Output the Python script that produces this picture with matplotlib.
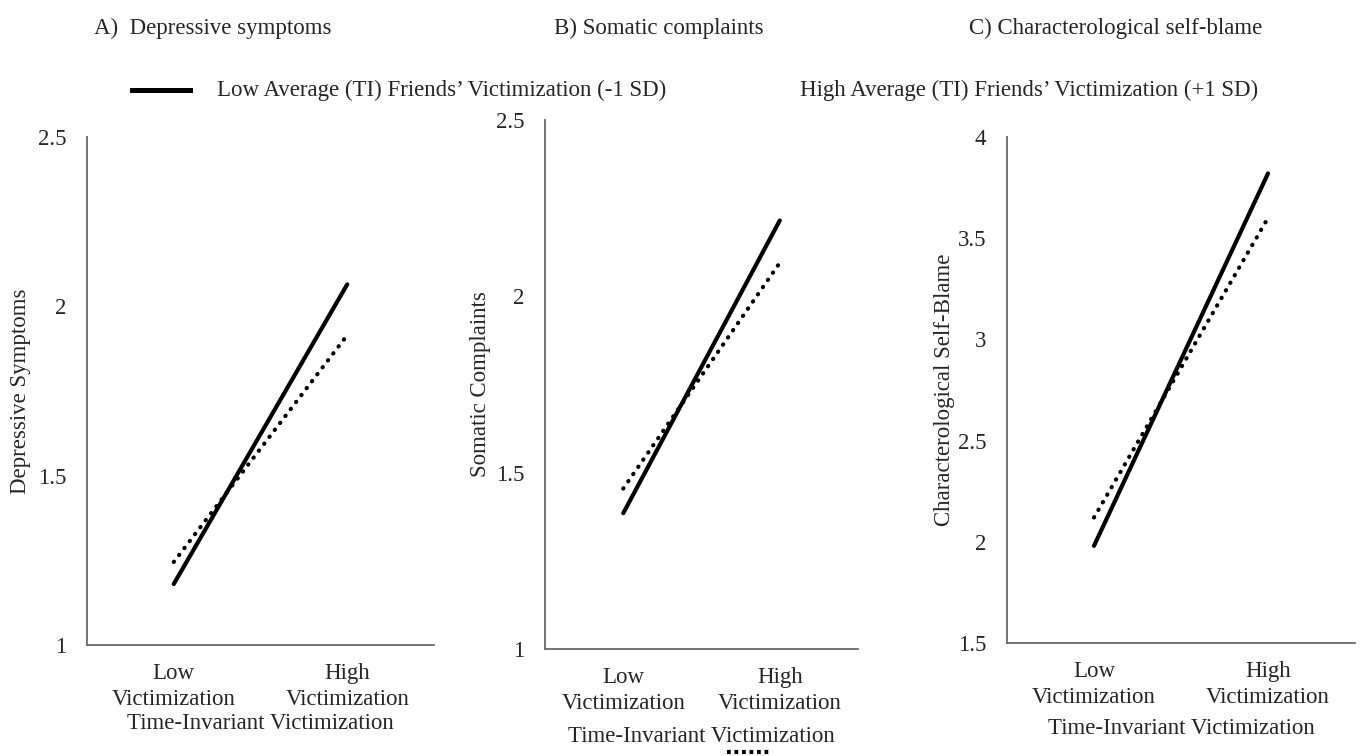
import matplotlib
matplotlib.use('Agg')
from matplotlib import pyplot as plt
from matplotlib.lines import Line2D

# x categories (two points per line)
categories = ['Low\nVictimization', 'High\nVictimization']

# A) depressive symptoms
depLowFriends = [1.18, 2.065]
depHighFriends = [1.245, 1.915]
# B) somatic complaints
somLowFriends = [1.385, 2.215]
somHighFriends = [1.455, 2.095]
# C) characterological self-blame
csbLowFriends = [1.98, 3.82]
csbHighFriends = [2.12, 3.60]

depTicks = [1, 1.5, 2, 2.5]
somTicks = [1, 1.5, 2, 2.5]
csbTicks = [1.5, 2, 2.5, 3, 3.5, 4]
tickLabels = {1: '1', 1.5: '1.5', 2: '2', 2.5: '2.5', 3: '3', 3.5: '3.5', 4: '4'}

titles = ['A)  Depressive symptoms', 'B) Somatic complaints', 'C) Characterological self-blame']
yLabels = ['Depressive Symptoms', 'Somatic Complaints', 'Characterological Self-Blame']
xLabel = 'Time-Invariant Victimization'
legendLow = 'Low Average (TI) Friends\u2019 Victimization (-1 SD)'
legendHigh = 'High Average (TI) Friends\u2019 Victimization (+1 SD)'

W, H = 1360, 756
TXT = '#262626'
AXC = '#6a6a6a'
FS = 16.5
plt.rcParams['font.family'] = ['Liberation Serif', 'DejaVu Serif']


def pxBox(left, right, top, bottom):
    # pixel box -> figure fraction rect
    return [left / W, (H - bottom) / H, (right - left) / W, (bottom - top) / H]


def panel(fig, rect, lowVals, highVals, yTicks, yLab, yLabX, xPad):
    ax = fig.add_axes(rect)
    xs = range(len(categories))
    ax.plot(xs, lowVals, color='black', lw=3.0, solid_capstyle='round')
    ax.plot(xs, highVals, color='black', lw=3.0, linestyle=(0, (0.1, 2.0)),
            dash_capstyle='round')
    ax.set_xlim(-0.5, 1.5)
    ax.set_ylim(yTicks[0], yTicks[-1])
    ax.set_xticks(list(xs))
    ax.set_xticklabels(categories, fontsize=FS, color=TXT, linespacing=1.3)
    ax.set_yticks(yTicks)
    ax.set_yticklabels([tickLabels[t] for t in yTicks], fontsize=FS, color=TXT)
    ax.tick_params(axis='both', length=0)
    ax.tick_params(axis='x', pad=13)
    ax.tick_params(axis='y', pad=15)
    for s in ['top', 'right']:
        ax.spines[s].set_visible(False)
    for s in ['left', 'bottom']:
        ax.spines[s].set_color(AXC)
        ax.spines[s].set_linewidth(1.3)
    ax.set_ylabel(yLab, fontsize=FS, color=TXT)
    ax.yaxis.set_label_coords(yLabX, 0.5)
    ax.set_xlabel(xLabel, fontsize=FS, color=TXT, labelpad=xPad)
    return ax


def main():
    fig = plt.figure(figsize=(W / 100, H / 100), dpi=100)

    panel(fig, pxBox(87, 434, 137, 645), depLowFriends, depHighFriends, depTicks, yLabels[0], -0.162, 2.5)
    panel(fig, pxBox(545, 858, 120, 649), somLowFriends, somHighFriends, somTicks, yLabels[1], -0.172, 8.5)
    panel(fig, pxBox(1007, 1355, 137, 643), csbLowFriends, csbHighFriends, csbTicks, yLabels[2], -0.150, 7.5)

    # panel titles
    for x, t in zip([94, 554, 969], titles):
        fig.text(x / W, 1 - 28 / H, t, fontsize=FS, color=TXT, ha='left', va='center')

    # legend (wrapped the way the original one is)
    fig.add_artist(Line2D([132 / W, 190 / W], [1 - 90 / H, 1 - 90 / H], color='black', lw=3.6))
    fig.text(217 / W, 1 - 90 / H, legendLow, fontsize=FS, color=TXT, ha='left', va='center')
    fig.text(800 / W, 1 - 90 / H, legendHigh, fontsize=FS, color=TXT, ha='left', va='center')
    fig.add_artist(Line2D([727 / W, 771 / W], [1 - 752 / H, 1 - 752 / H], color='black', lw=3.0,
                          linestyle=(0, (0.9, 0.9)), dash_capstyle='butt'))

    fig.savefig('out.png', dpi=100, facecolor='white')


if __name__ == '__main__': main()
